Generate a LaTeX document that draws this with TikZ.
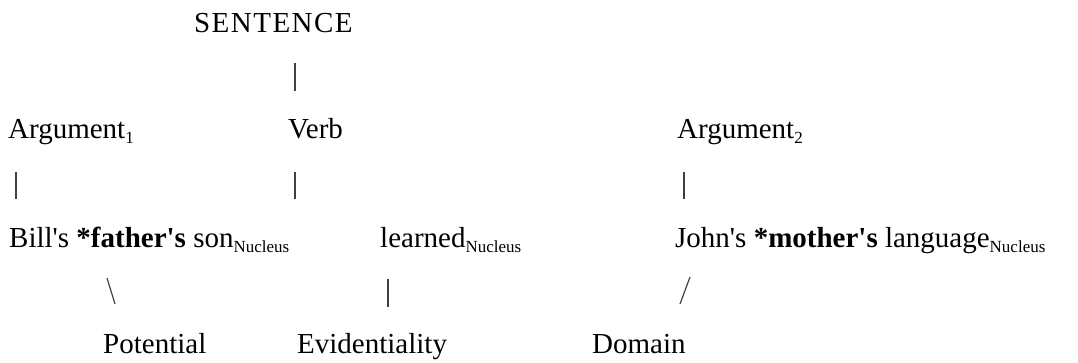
\documentclass[tikz,border=0pt]{standalone}
\usepackage{fontspec}
\newfontfamily\garfont{Liberation Serif}
\newcommand\lowtag[1]{\raisebox{-5pt}{\fontsize{17}{17}\selectfont #1}}

\begin{document}
\begin{tikzpicture}[x=1pt,y=-1pt]
    \tikzset{word/.style={anchor=base west,inner sep=0pt,font=\fontsize{29}{34}\garfont},
      bar/.style={draw=black!75,line width=1.2pt}}
    \useasboundingbox (0,0) rectangle (1078,362);
    \node[word] (sent) at (194,32) {\addfontfeatures{LetterSpace=5}SENTENCE};
    \node[word] (argl) at (8,138) {Argument\lowtag{1}};
    \node[word] (verb) at (288,138) {Verb};
    \node[word] (argr) at (677,138) {Argument\lowtag{2}};
    \node[word] (nucl) at (9,247) {Bill's \textbf{*father's} son\lowtag{Nucleus}};
    \node[word] (nucv) at (380,247) {learned\lowtag{Nucleus}};
    \node[word] (nucr) at (675,247) {John's \textbf{*mother's} language\lowtag{Nucleus}};
    \node[word] (pot) at (103,353) {Potential};
    \node[word] (evid) at (297,353) {Evidentiality};
    \node[word] (dom) at (592,353) {Domain};
    % bar ends
    \coordinate (s1) at (295,63);  \coordinate (s2) at (295,91);
    \coordinate (l1) at (16,172);  \coordinate (l2) at (16,199);
    \coordinate (v1) at (295,172); \coordinate (v2) at (295,199);
    \coordinate (r1) at (684,172); \coordinate (r2) at (684,199);
    \coordinate (p1) at (107,278); \coordinate (p2) at (115,304);
    \coordinate (e1) at (388,279); \coordinate (e2) at (388,307);
    \coordinate (d1) at (690,277); \coordinate (d2) at (680,304);
    \draw[bar] (s1) -- (s2);
    \draw[bar] (l1) -- (l2);
    \draw[bar] (v1) -- (v2);
    \draw[bar] (r1) -- (r2);
    \draw[bar] (p1) -- (p2);
    \draw[bar] (e1) -- (e2);
    \draw[bar] (d1) -- (d2);
  \end{tikzpicture}
\end{document}
